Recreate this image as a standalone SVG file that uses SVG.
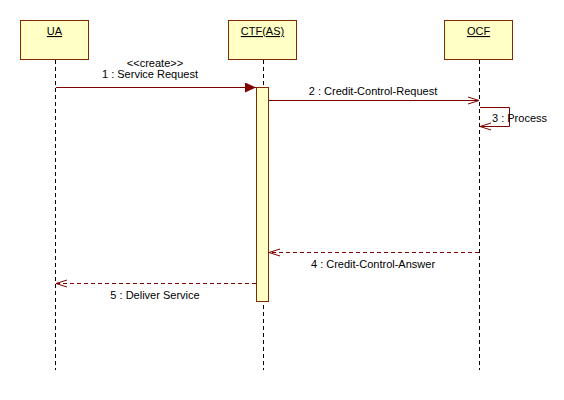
<svg xmlns="http://www.w3.org/2000/svg" width="564" height="400" viewBox="0 0 564 400">
<style>
.box{fill:#ffffc6;stroke:#7f2a00;stroke-width:1}
.life{stroke:#000;stroke-width:1;stroke-dasharray:4,3;fill:none}
.msg{stroke:#800000;stroke-width:1;fill:none}
.ret{stroke:#800000;stroke-width:1;fill:none;stroke-dasharray:4,3}
.t{font-family:"Liberation Sans",Arial,sans-serif;font-size:11px;fill:#000}
.u{text-decoration:underline}
</style>
<defs>
<marker id="filled" markerWidth="12" markerHeight="10" refX="11" refY="5" orient="auto" markerUnits="userSpaceOnUse">
<path d="M0,0 L11,5 L0,10 Z" fill="#800000"/>
</marker>
<marker id="open" markerWidth="12" markerHeight="10" refX="11" refY="5" orient="auto" markerUnits="userSpaceOnUse">
<path d="M0,1.5 L11,5 L0,8.5" fill="none" stroke="#800000" stroke-width="1"/>
</marker>
</defs>
<rect width="564" height="400" fill="#fff"/>
<g id="UA">
<rect class="box" x="20.5" y="20.5" width="68" height="39"/>
<text class="t u" x="54.5" y="35" text-anchor="middle">UA</text>
<line class="life" x1="55.5" y1="60" x2="55.5" y2="370"/>
</g>
<g id="CTF">
<rect class="box" x="228.5" y="20.5" width="68" height="39"/>
<text class="t u" x="262.5" y="35" text-anchor="middle">CTF(AS)</text>
<line class="life" x1="263.5" y1="60" x2="263.5" y2="370"/>
<rect class="box" x="256.5" y="87.5" width="12" height="214"/>
</g>
<g id="OCF">
<rect class="box" x="444.5" y="20.5" width="68" height="39"/>
<text class="t u" x="478.5" y="35" text-anchor="middle">OCF</text>
<line class="life" x1="479.5" y1="60" x2="479.5" y2="370"/>
</g>
<g id="connectors">
<line class="msg" x1="56" y1="87.5" x2="256" y2="87.5" marker-end="url(#filled)"/>
<line class="msg" x1="269" y1="100.5" x2="479" y2="100.5" marker-end="url(#open)"/>
<polyline class="msg" points="480,107.5 509.5,107.5 509.5,126.5 480,126.5" marker-end="url(#open)"/>
<line class="ret" x1="479" y1="252.5" x2="269" y2="252.5" marker-end="url(#open)"/>
<line class="ret" x1="256" y1="283.5" x2="56" y2="283.5" marker-end="url(#open)"/>
</g>
<g id="labels">
<text class="t" x="155" y="67" text-anchor="middle">&lt;&lt;create&gt;&gt;</text>
<text class="t" x="150" y="78" text-anchor="middle">1 : Service Request</text>
<text class="t" x="373" y="95" text-anchor="middle">2 : Credit-Control-Request</text>
<text class="t" x="492" y="122">3 : Process</text>
<text class="t" x="373" y="268" text-anchor="middle">4 : Credit-Control-Answer</text>
<text class="t" x="155" y="299" text-anchor="middle">5 : Deliver Service</text>
</g>
</svg>
